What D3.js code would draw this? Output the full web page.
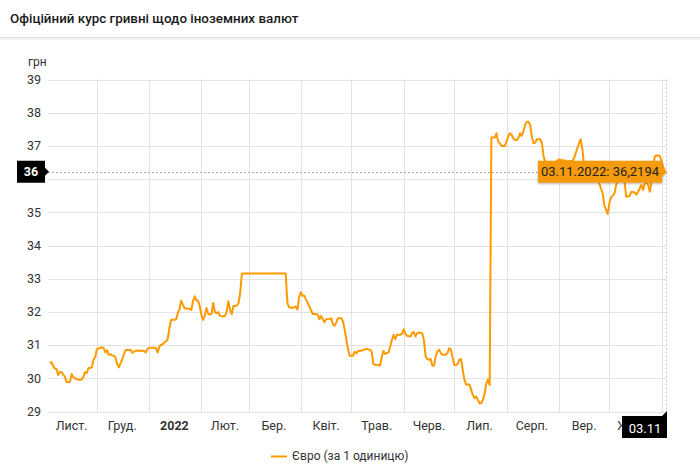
<!DOCTYPE html>
<html><head><meta charset="utf-8">
<script src="https://cdn.jsdelivr.net/npm/d3@7"></script>
<style>body{margin:0;background:#fff;}svg{font-family:Roboto,"Noto Sans",sans-serif;display:block}</style>
</head><body><svg id="chart" width="700" height="470"></svg>
<script>
// ---- data ----
const rateDates = [
"2021-11-03","2021-11-04","2021-11-05","2021-11-06","2021-11-07","2021-11-08","2021-11-09","2021-11-10","2021-11-11","2021-11-12",
"2021-11-13","2021-11-14","2021-11-15","2021-11-16","2021-11-17","2021-11-18","2021-11-19","2021-11-21","2021-11-22","2021-11-23",
"2021-11-24","2021-11-25","2021-11-26","2021-11-27","2021-11-28","2021-11-29","2021-11-30","2021-12-01","2021-12-02","2021-12-03",
"2021-12-04","2021-12-05","2021-12-06","2021-12-07","2021-12-08","2021-12-09","2021-12-10","2021-12-11","2021-12-12","2021-12-13",
"2021-12-14","2021-12-15","2021-12-16","2021-12-17","2021-12-18","2021-12-20","2021-12-21","2021-12-22","2021-12-23","2021-12-24",
"2021-12-26","2021-12-28","2021-12-29","2021-12-30","2021-12-31","2022-01-01","2022-01-03","2022-01-05","2022-01-06","2022-01-07",
"2022-01-08","2022-01-09","2022-01-10","2022-01-11","2022-01-12","2022-01-13","2022-01-14","2022-01-16","2022-01-17","2022-01-18",
"2022-01-19","2022-01-20","2022-01-21","2022-01-22","2022-01-24","2022-01-25","2022-01-26","2022-01-27","2022-01-28","2022-01-29",
"2022-01-30","2022-01-31","2022-02-01","2022-02-02","2022-02-03","2022-02-04","2022-02-05","2022-02-06","2022-02-07","2022-02-08",
"2022-02-09","2022-02-10","2022-02-11","2022-02-12","2022-02-14","2022-02-15","2022-02-16","2022-02-17","2022-02-18","2022-02-19",
"2022-02-20","2022-02-21","2022-02-22","2022-02-23","2022-02-24","2022-02-25","2022-02-26","2022-03-23","2022-03-24","2022-03-25",
"2022-03-27","2022-03-28","2022-03-29","2022-03-30","2022-03-31","2022-04-01","2022-04-02","2022-04-03","2022-04-04","2022-04-06",
"2022-04-07","2022-04-08","2022-04-09","2022-04-11","2022-04-12","2022-04-13","2022-04-14","2022-04-15","2022-04-16","2022-04-18",
"2022-04-19","2022-04-20","2022-04-21","2022-04-22","2022-04-23","2022-04-25","2022-04-26","2022-04-27","2022-04-28","2022-04-29",
"2022-04-30","2022-05-02","2022-05-03","2022-05-04","2022-05-05","2022-05-06","2022-05-08","2022-05-10","2022-05-11","2022-05-12",
"2022-05-13","2022-05-14","2022-05-15","2022-05-17","2022-05-18","2022-05-19","2022-05-20","2022-05-21","2022-05-22","2022-05-23",
"2022-05-24","2022-05-25","2022-05-26","2022-05-27","2022-05-28","2022-05-30","2022-05-31","2022-06-01","2022-06-02","2022-06-03",
"2022-06-05","2022-06-06","2022-06-07","2022-06-08","2022-06-09","2022-06-10","2022-06-12","2022-06-13","2022-06-14","2022-06-15",
"2022-06-16","2022-06-17","2022-06-18","2022-06-19","2022-06-20","2022-06-21","2022-06-22","2022-06-23","2022-06-24","2022-06-26",
"2022-06-27","2022-06-28","2022-06-29","2022-06-30","2022-07-01","2022-07-02","2022-07-03","2022-07-04","2022-07-05","2022-07-06",
"2022-07-07","2022-07-08","2022-07-10","2022-07-11","2022-07-12","2022-07-13","2022-07-14","2022-07-15","2022-07-16","2022-07-17",
"2022-07-18","2022-07-19","2022-07-20","2022-07-21","2022-07-22","2022-07-23","2022-07-24","2022-07-25","2022-07-26","2022-07-27",
"2022-07-28","2022-07-29","2022-07-31","2022-08-01","2022-08-02","2022-08-03","2022-08-04","2022-08-05","2022-08-06","2022-08-07",
"2022-08-08","2022-08-09","2022-08-10","2022-08-11","2022-08-12","2022-08-13","2022-08-14","2022-08-15","2022-08-16","2022-08-17",
"2022-08-18","2022-08-19","2022-08-21","2022-08-22","2022-08-23","2022-08-24","2022-08-25","2022-08-26","2022-08-27","2022-08-28",
"2022-08-29","2022-08-30","2022-08-31","2022-09-01","2022-09-03","2022-09-04","2022-09-06","2022-09-09","2022-09-10","2022-09-12",
"2022-09-13","2022-09-14","2022-09-15","2022-09-16","2022-09-17","2022-09-19","2022-09-21","2022-09-23","2022-09-24","2022-09-25",
"2022-09-27","2022-09-28","2022-09-29","2022-09-30","2022-10-01","2022-10-02","2022-10-03","2022-10-04","2022-10-05","2022-10-06",
"2022-10-07","2022-10-08","2022-10-10","2022-10-11","2022-10-13","2022-10-14","2022-10-16","2022-10-17","2022-10-18","2022-10-20",
"2022-10-21","2022-10-22","2022-10-23","2022-10-24","2022-10-25","2022-10-26","2022-10-27","2022-10-28","2022-10-30","2022-10-31",
"2022-11-01","2022-11-02","2022-11-03"
];
const euroValues = [
30.46,30.49,30.38,30.29,30.29,30.10,30.19,30.19,30.11,30.05,
29.89,29.89,29.89,30.13,30.04,30.00,29.98,29.95,29.97,30.04,
30.19,30.16,30.31,30.31,30.33,30.56,30.64,30.88,30.90,30.91,
30.94,30.91,30.78,30.85,30.71,30.73,30.69,30.68,30.63,30.44,
30.33,30.45,30.56,30.73,30.85,30.85,30.86,30.77,30.80,30.83,
30.84,30.83,30.82,30.78,30.88,30.92,30.92,30.91,30.78,30.94,
31.02,31.02,31.08,31.11,31.18,31.51,31.76,31.76,31.78,31.96,
32.08,32.34,32.22,32.11,32.10,32.09,32.06,32.32,32.47,32.35,
32.34,32.17,31.91,31.76,31.88,32.12,31.95,31.92,31.94,32.27,
31.99,31.96,31.99,31.88,31.86,31.89,32.01,32.32,32.07,31.93,
32.18,32.18,32.19,32.26,32.57,33.15,33.16,33.16,32.27,32.14,
32.12,32.14,32.17,32.07,32.45,32.59,32.49,32.49,32.37,32.17,
32.05,31.94,31.94,31.92,31.78,31.88,31.78,31.69,31.78,31.79,
31.81,31.63,31.58,31.68,31.81,31.81,31.71,31.46,31.16,30.86,
30.68,30.68,30.80,30.75,30.83,30.82,30.85,30.89,30.87,30.86,
30.81,30.43,30.41,30.40,30.38,30.64,30.83,30.73,30.76,30.78,
30.96,31.16,31.31,31.18,31.31,31.31,31.34,31.48,31.34,31.28,
31.26,31.36,31.39,31.26,31.36,31.38,31.36,31.15,30.66,30.58,
30.56,30.58,30.38,30.38,30.66,30.81,30.86,30.76,30.71,30.71,
30.76,30.91,30.86,30.63,30.40,30.40,30.43,30.56,30.58,30.26,
29.96,29.81,29.81,29.65,29.50,29.40,29.45,29.35,29.25,29.25,
29.35,29.55,29.85,29.97,29.80,37.25,37.25,37.25,37.38,37.13,
37.08,37.00,37.00,37.13,37.30,37.38,37.33,37.23,37.18,37.18,
37.23,37.38,37.30,37.43,37.63,37.73,37.73,37.63,37.30,37.08,
37.10,37.20,37.20,37.08,36.67,36.52,36.45,36.40,36.45,36.45,
36.48,36.50,36.55,36.59,36.56,36.57,36.53,36.55,36.62,36.93,
37.08,37.20,36.90,36.40,36.25,36.20,36.10,36.05,36.00,35.87,
35.57,35.22,35.07,34.95,35.27,35.45,35.50,35.57,35.82,36.00,
36.05,36.05,35.92,35.47,35.49,35.62,35.60,35.53,35.62,35.82,
35.67,35.85,35.97,35.82,35.62,35.92,36.42,36.69,36.72,36.69,
36.52,36.35,36.2194
];
const yTicks = [29,30,31,32,33,34,35,36,37,38,39];
const monthGridDates = ["2021-12-01","2022-01-01","2022-02-01","2022-03-01","2022-04-01","2022-05-01","2022-06-01","2022-07-01","2022-08-01","2022-09-01","2022-10-01","2022-11-01"];
const monthLabelDates = ["2021-11-16","2021-12-16","2022-01-16","2022-02-15","2022-03-16","2022-04-16","2022-05-16","2022-06-16","2022-07-16","2022-08-16","2022-09-16","2022-10-16"];
const monthLabels = ["Лист.","Груд.","2022","Лют.","Бер.","Квіт.","Трав.","Черв.","Лип.","Серп.","Вер.","Жовт."];
const titleText = "Офіційний курс гривні щодо іноземних валют";
const seriesName = "Євро (за 1 одиницю)";
const unitLabel = "грн";
const hoverDate = "2022-11-03";
const hoverLabelDate = "03.11.2022";
const hoverValueText = "36,2194";
const hoverAxisX = "03.11";
const hoverAxisY = "36";

// ---- drawing ----
(function(){
const parse = d3.timeParse("%Y-%m-%d");
const data = rateDates.map((d,i)=>({date:parse(d), value:euroValues[i]}));
const svg = d3.select("#chart");
const pLeft = 48, pRight = 665, pTop = 79.5, pBottom = 411.5;
const x = d3.scaleTime().domain([parse("2021-11-02"), parse("2022-11-03")]).range([pLeft, pRight]);
const y = d3.scaleLinear().domain([29,39]).range([pBottom, pTop]);
const lineColor = "#ff9a00";

const defs = svg.append("defs");
const f = defs.append("filter").attr("id","sh").attr("x","-20%").attr("y","-40%").attr("width","140%").attr("height","180%");
f.append("feDropShadow").attr("dx",0).attr("dy",1).attr("stdDeviation",1.2).attr("flood-color","#000").attr("flood-opacity",0.3);

// title
svg.append("text").attr("x",10).attr("y",23).attr("font-size",13.4).attr("font-weight",500).attr("fill","#1a1a1a").text(titleText);
svg.append("rect").attr("x",0).attr("y",37).attr("width",700).attr("height",1).attr("fill","#e2e2e2");
svg.append("rect").attr("x",0).attr("y",38).attr("width",700).attr("height",2).attr("fill","#f2f2f2");

// unit
svg.append("text").attr("x",28).attr("y",66).attr("font-size",12).attr("fill","#333").text(unitLabel);

// horizontal grid + y labels
const yg = svg.append("g");
yg.selectAll("line").data(yTicks).join("line")
  .attr("x1",pLeft).attr("x2",pRight+1).attr("y1",d=>Math.round(y(d))+0.5).attr("y2",d=>Math.round(y(d))+0.5)
  .attr("stroke","#e3e3e3").attr("stroke-width",1);
yg.selectAll("text").data(yTicks.filter(d=>String(d)!==hoverAxisY)).join("text")
  .attr("x",41).attr("y",d=>y(d)).attr("dy","0.35em").attr("text-anchor","end")
  .attr("font-size",12.5).attr("fill","#333").text(d=>d);

// vertical grid
svg.append("g").selectAll("line").data(monthGridDates.map(parse)).join("line")
  .attr("x1",d=>Math.round(x(d))+0.5).attr("x2",d=>Math.round(x(d))+0.5)
  .attr("y1",pTop).attr("y2",pBottom+1).attr("stroke","#e3e3e3");

// x labels
svg.append("g").selectAll("text").data(monthLabels).join("text")
  .attr("x",(d,i)=>x(parse(monthLabelDates[i]))).attr("y",430).attr("text-anchor","middle")
  .attr("font-size",12.5).attr("fill","#333").attr("font-weight",d=>d==="2022"?700:400).text(d=>d);

// crosshair
const hx = x(parse(hoverDate));
const hy = y(euroValues[euroValues.length-1]);
svg.append("line").attr("x1",pLeft).attr("x2",hx).attr("y1",Math.round(hy)+0.5).attr("y2",Math.round(hy)+0.5)
  .attr("stroke","#aaa").attr("stroke-dasharray","2,2");
svg.append("line").attr("x1",Math.round(hx)+1.5).attr("x2",Math.round(hx)+1.5).attr("y1",pTop).attr("y2",pBottom+2)
  .attr("stroke","#c4c4c4").attr("stroke-dasharray","2,2");

// series line
svg.append("path").datum(data)
  .attr("fill","none").attr("stroke",lineColor).attr("stroke-width",2).attr("stroke-linejoin","round")
  .attr("d", d3.line().x(d=>x(d.date)).y(d=>y(d.value)));

// tooltip
const tg = svg.append("g").attr("filter","url(#sh)");
const tw = 124, th = 22, tx1 = hx - 3 - tw, ty1 = hy - th/2;
tg.append("path").attr("d",`M${tx1},${ty1}h${tw}v${th/2-5}l5,5l-5,5v${th/2-5}h${-tw}z`).attr("fill","#f59b0c");
svg.append("text").attr("x",tx1+tw/2).attr("y",hy).attr("dy","0.36em").attr("text-anchor","middle")
  .attr("font-size",13).attr("fill","#222").text(hoverLabelDate+": "+hoverValueText);

// y axis hover label
const yl = svg.append("g");
yl.append("path").attr("d",`M17,${hy-11}h28v7l4,4l-4,4v7h-28z`).attr("fill","#000");
yl.append("text").attr("x",31).attr("y",hy).attr("dy","0.36em").attr("text-anchor","middle")
  .attr("font-size",12.5).attr("font-weight",700).attr("fill","#fff").text(hoverAxisY);

// x axis hover label
const xl = svg.append("g");
const bx2 = Math.round(hx)+2;
xl.append("path").attr("d",`M${bx2-45},416h${40}l5,-5v27h-45z`).attr("fill","#000");
xl.append("text").attr("x",bx2-22).attr("y",428).attr("dy","0.36em").attr("text-anchor","middle")
  .attr("font-size",13).attr("fill","#fff").text(hoverAxisX);

// legend
svg.append("line").attr("x1",271).attr("x2",287).attr("y1",456.5).attr("y2",456.5).attr("stroke",lineColor).attr("stroke-width",2);
svg.append("text").attr("x",292).attr("y",456).attr("dy","0.36em").attr("font-size",12).attr("fill","#333").text(seriesName);
})();
</script>
</body></html>
